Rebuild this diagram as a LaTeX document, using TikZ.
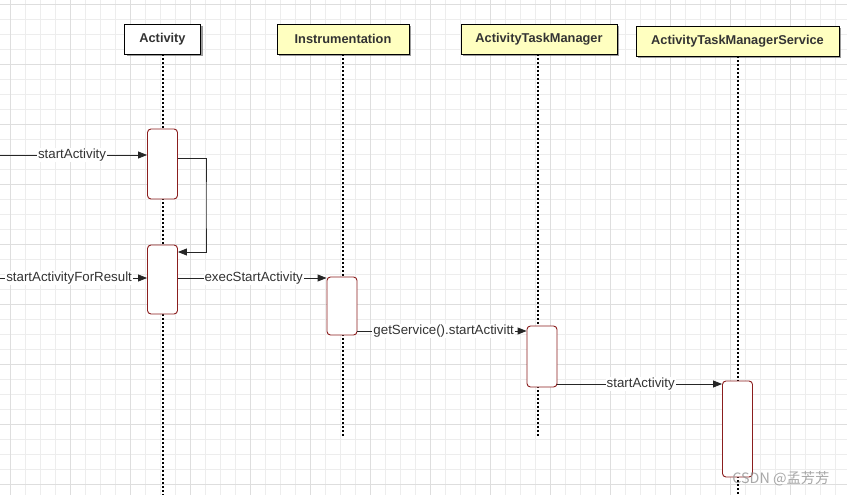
\documentclass[tikz,border=0pt]{standalone}
\usepackage{fontspec}
\setmainfont{Liberation Sans}
\newfontfamily\cjk{Noto Sans CJK SC}
\usetikzlibrary{arrows.meta,shadows}
\definecolor{gridminor}{HTML}{EDEDED}
\definecolor{gridmajor}{HTML}{DEDEDE}
\definecolor{hdryellow}{HTML}{FFFFC0}
\definecolor{actred}{HTML}{8B1E1E}
\definecolor{txt}{HTML}{333333}
\begin{document}
\begin{tikzpicture}[x=1pt,y=-1pt,
  header/.style={draw=black, line width=0.9pt, minimum height=30pt, inner sep=0pt,
    font=\fontsize{12.8}{14}\selectfont\bfseries, text=txt,
    drop shadow={shadow xshift=2pt, shadow yshift=-2pt, fill=black!55, opacity=.7}},
  act/.style={draw=actred, fill=white, line width=0.9pt, rounded corners=3.5pt,
    minimum width=30pt, inner sep=0pt},
  life/.style={line width=2pt, dash pattern=on 2pt off 2pt},
  msg/.style={line width=0.9pt, draw=black!85, -{Triangle[length=9pt,width=7pt]}},
  lbl/.style={fill=white, inner sep=1pt, text=txt, font=\fontsize{13.3}{15}\selectfont},
]
\useasboundingbox (0,0) rectangle (847,495);
\fill[white] (0,0) rectangle (847,495);
% grid
\foreach \x in {10,25,...,845} \draw[gridminor, line width=0.6pt] (\x,0) -- (\x,495);
\foreach \y in {4,19,...,494} \draw[gridminor, line width=0.6pt] (0,\y) -- (847,\y);
\foreach \x in {10,70,...,845} \draw[gridmajor, line width=0.6pt] (\x,0) -- (\x,495);
\foreach \y in {4,64,...,494} \draw[gridmajor, line width=0.6pt] (0,\y) -- (847,\y);

% headers
\node[header, fill=white, minimum width=76pt] (hA) at (162.5,39) {Activity};
\node[header, fill=hdryellow, minimum width=132pt] (hI) at (343,39) {Instrumentation};
\node[header, fill=hdryellow, minimum width=156pt] (hT) at (539,39) {ActivityTaskManager};
\node[header, fill=hdryellow, minimum width=203pt] (hS) at (737.5,41) {ActivityTaskManagerService};

% lifelines
\draw[life] (hA.south) -- (hA.south |- 0,495);
\draw[life] (hI.south) -- (hI.south |- 0,438);
\draw[life] (hT.south) ++(-1,0) coordinate (tT) -- (tT |- 0,438);
\draw[life] (hS.south) -- (hS.south |- 0,495);

% activations
\node[act, minimum height=70pt] (actA1) at (162.5,164) {};
\node[act, minimum height=69pt] (actA2) at (162.5,279.5) {};
\node[act, minimum height=58pt] (actI) at (342,306) {};
\node[act, minimum height=61pt] (actT) at (542,356.5) {};
\node[act, minimum height=96pt] (actS) at (737.5,429) {};

% messages
\coordinate (inA) at (0,155);
\coordinate (inB) at (0,278);
\coordinate (lp) at (206,205);
\draw[msg] (inA) -- (inA -| actA1.west) node[lbl, pos=.49] {startActivity};
\draw[msg] (actA1.east |- 0,158) -| (lp) |- (actA2.east |- 0,252);
\draw[msg] (inB) -- (inB -| actA2.west) node[lbl, pos=.47] {startActivityForResult};
\draw[msg] (actA2.east |- 0,278) -- (actI.west |- 0,278) node[lbl, pos=.51] {execStartActivity};
\draw[msg] (actI.east |- 0,331) -- (actT.west |- 0,331) node[lbl, pos=.51] {getService().startActivitt};
\draw[msg] (actT.east |- 0,384) -- (actS.west |- 0,384) node[lbl, pos=.506] {startActivity};

% watermark
\node[text=gray!80, opacity=.85, font=\cjk\fontsize{14.3}{16}\selectfont, inner sep=0pt] (wm) at (781,479) {CSDN @孟芳芳};
\end{tikzpicture}
\end{document}
